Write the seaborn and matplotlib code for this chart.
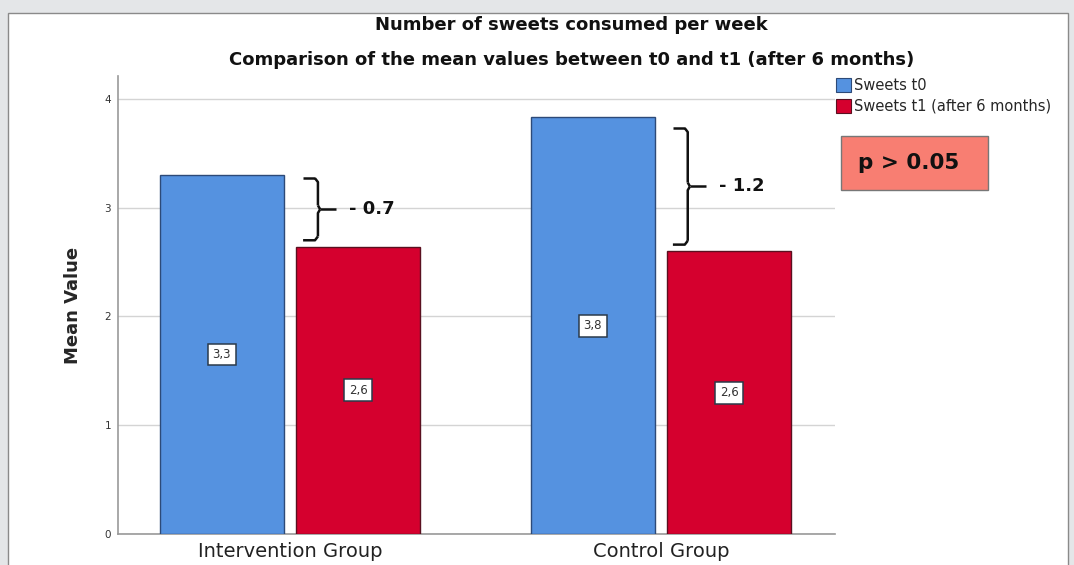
import numpy as np
import pandas as pd
import matplotlib
matplotlib.use("Agg")
import matplotlib.pyplot as plt
from matplotlib.patches import Patch, Rectangle
import seaborn as sns

# Data
groups = ["Intervention Group", "Control Group"]
series = ["Sweets t0", "Sweets t1 (after 6 months)"]
sweets_t0 = [3.30, 3.83]
sweets_t1 = [2.64, 2.60]
y_ticks = [0, 1, 2, 3, 4]
p_text = "p > 0.05"

blue = "#5592e0"
red = "#d5002e"
blue_edge = "#2d4a78"
red_edge = "#5a1020"

sns.set_style("white")
plt.rcParams["font.family"] = ["DejaVu Sans"]

df = pd.DataFrame({
    "group": groups * 2,
    "time": [series[0]] * len(groups) + [series[1]] * len(groups),
    "value": sweets_t0 + sweets_t1,
})

fig = plt.figure(figsize=(10.74, 5.65), dpi=100)
fig.patch.set_facecolor("#e4e6e8")
# white panel behind the chart
fig.add_artist(Rectangle((8 / 1074, -0.01), 1060 / 1074, 1 - 13 / 565 + 0.01,
                         transform=fig.transFigure, facecolor="white",
                         edgecolor="#8a8a8a", lw=1.0, zorder=0))

ax = fig.add_axes([118 / 1074, 1 - 534 / 565, (835 - 118) / 1074, (534 - 76) / 565])
ax.set_facecolor("white")

sns.barplot(data=df, x="group", y="value", hue="time", order=groups,
            hue_order=series, palette=[blue, red], saturation=1,
            width=0.736, gap=0.09, errorbar=None, legend=False, ax=ax, zorder=3)

edge_cols = [blue_edge] * len(groups) + [red_edge] * len(groups)
for patch, ec in zip(ax.patches, edge_cols):
    patch.set_edgecolor(ec)
    patch.set_linewidth(1.0)

# value labels in the middle of each bar
for patch in ax.patches:
    h = patch.get_height()
    cx = patch.get_x() + patch.get_width() / 2
    ax.text(cx, h / 2, f"{h:.1f}".replace(".", ","), ha="center", va="center",
            fontsize=8.5, color="#333333", zorder=5,
            bbox=dict(boxstyle="square,pad=0.38", facecolor="white",
                      edgecolor="#2b3a4a", lw=1.1))

ax.set_xlim(-0.464, 1.469)
ax.set_ylim(0, 4.21)
ax.set_yticks(y_ticks)
ax.set_yticklabels([str(t) for t in y_ticks], fontsize=7.5, color="#333333")
ax.yaxis.grid(True, color="#d4d4d4", lw=1.0, zorder=0)
ax.set_axisbelow(True)
ax.tick_params(axis="y", length=0, pad=5)
ax.tick_params(axis="x", length=0, pad=6, labelsize=14, labelcolor="#222222")
for side in ["top", "right"]:
    ax.spines[side].set_visible(False)
for side in ["left", "bottom"]:
    ax.spines[side].set_color("#999999")
    ax.spines[side].set_linewidth(1.2)
ax.set_xlabel("")
ax.set_ylabel("Mean Value", fontsize=13, fontweight="bold", labelpad=16)


def draw_brace(ax, x0, y_top, y_bot, w=0.04, tip=0.05):
    """Curly bracket opening to the left, pointing right at its middle."""
    ym = (y_top + y_bot) / 2
    r = 0.035
    kw = dict(color="#111111", lw=1.8, solid_capstyle="butt", zorder=6)
    ax.plot([x0, x0 + w - 0.008], [y_top, y_top], **kw)
    ax.plot([x0 + w - 0.008, x0 + w, x0 + w], [y_top, y_top - r, ym + r], **kw)
    ax.plot([x0 + w, x0 + w + 0.006], [ym + r, ym], **kw)
    ax.plot([x0 + w + 0.006, x0 + w + tip], [ym, ym], **kw)
    ax.plot([x0 + w + 0.006, x0 + w, x0 + w], [ym, ym - r, y_bot + r], **kw)
    ax.plot([x0 + w, x0 + w - 0.008, x0], [y_bot + r, y_bot, y_bot], **kw)
    return x0 + w + tip, ym


for i, (a, b) in enumerate(zip(sweets_t0, sweets_t1)):
    ra, rb = round(a, 1), round(b, 1)
    diff = rb - ra
    pad = 0.03 if i == 0 else 0.1
    x0 = i + (0.035 if i == 0 else 0.032)
    tip_x, ym = draw_brace(ax, x0, a - pad, b + 0.06)
    ax.text(tip_x + 0.035, ym, f"- {abs(diff):.1f}", ha="left", va="center",
            fontsize=13, fontweight="bold", color="#111111", zorder=6)

# titles
fig.text(0.532, 1 - 25 / 565, "Number of sweets consumed per week",
         ha="center", va="center", fontsize=13, fontweight="bold", color="#111111")
fig.text(0.532, 1 - 60 / 565,
         "Comparison of the mean values between t0 and t1 (after 6 months)",
         ha="center", va="center", fontsize=13, fontweight="bold", color="#111111")

# legend
handles = [Patch(facecolor=blue, edgecolor=blue_edge, lw=0.8, label=series[0]),
           Patch(facecolor=red, edgecolor=red_edge, lw=0.8, label=series[1])]
fig.legend(handles=handles, loc="upper left", bbox_to_anchor=(836 / 1074, 1 - 78 / 565),
           frameon=False, fontsize=10.5, handlelength=1.0, handleheight=1.1,
           handletextpad=0.2, labelspacing=0.4, borderaxespad=0, borderpad=0)

# significance box
fig.add_artist(Rectangle((841 / 1074, 1 - 190 / 565), 147 / 1074, 54 / 565,
                         transform=fig.transFigure, facecolor="#f87e72",
                         edgecolor="#777777", lw=1.0, zorder=4))
fig.text(909 / 1074, 1 - 163 / 565, p_text, ha="center", va="center",
         fontsize=15.5, fontweight="bold", color="#111111", zorder=5)

fig.savefig("out.png", dpi=100, facecolor=fig.get_facecolor())
